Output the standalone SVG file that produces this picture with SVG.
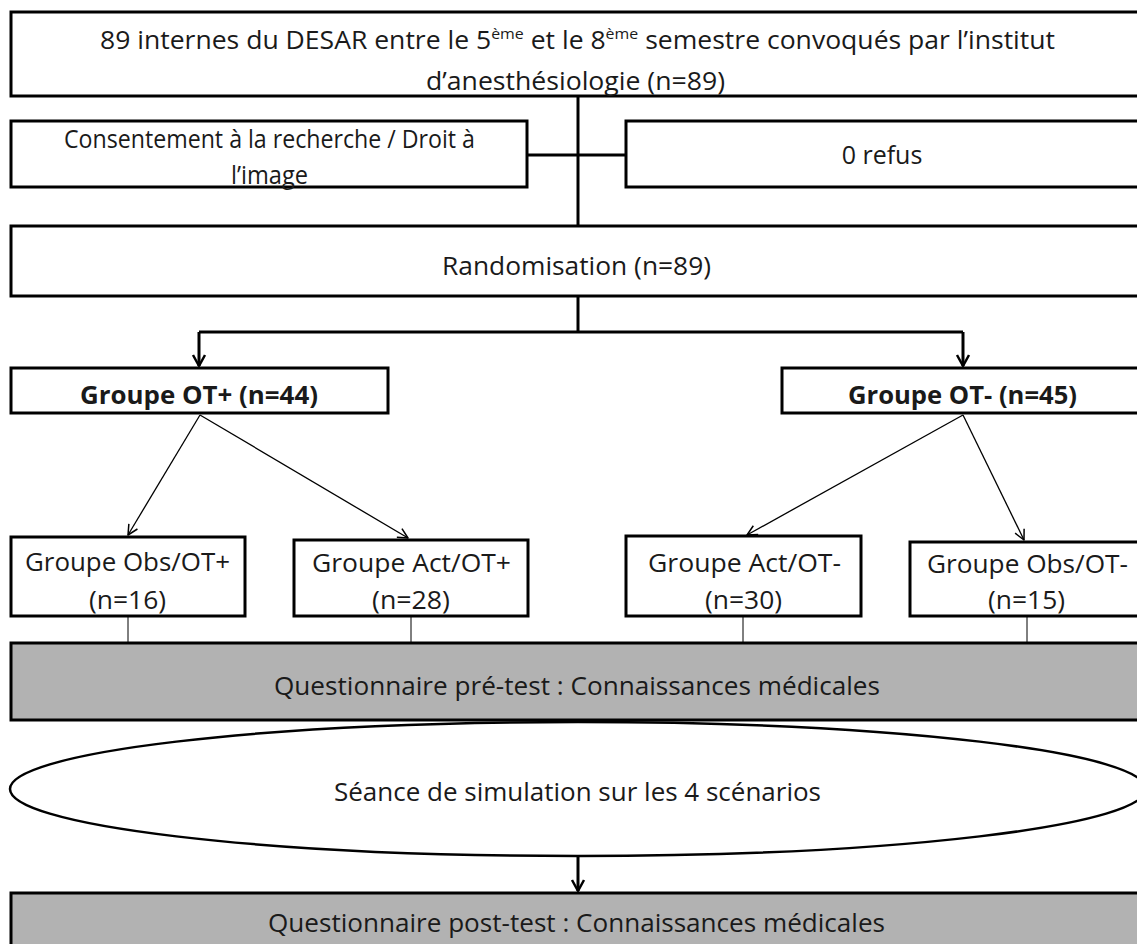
<svg xmlns="http://www.w3.org/2000/svg" width="1137" height="944" viewBox="0 0 1137 944">
<defs>
<style>
.box{fill:#fff;stroke:#000;stroke-width:3}
.gray{fill:#b2b2b2;stroke:#000;stroke-width:3}
.t{font-family:"Open Sans","Noto Sans","DejaVu Sans",sans-serif;font-size:25px;fill:#1a1a1a;text-anchor:middle}
.b{font-weight:bold}
.thick{fill:none;stroke:#000;stroke-width:3}
.thin{fill:none;stroke:#000;stroke-width:1.3}
.tick{fill:none;stroke:#000;stroke-width:1}
</style>
<marker id="ah" markerUnits="userSpaceOnUse" markerWidth="16" markerHeight="16" viewBox="-14 -8 16 16" refX="0" refY="0" orient="auto">
<path d="M-11,-6 L0,0 L-11,6" fill="none" stroke="#000" stroke-width="2.5" stroke-linejoin="round"/>
</marker>
<marker id="ahs" markerUnits="userSpaceOnUse" markerWidth="16" markerHeight="16" viewBox="-14 -8 16 16" refX="0" refY="0" orient="auto">
<path d="M-10,-5 L0,0 L-10,5" fill="none" stroke="#000" stroke-width="1.5" stroke-linejoin="round"/>
</marker>
</defs>

<g id="connectors">
<path class="thick" d="M578,96 V226"/>
<path class="thick" d="M527,155 H626"/>
<path class="thick" d="M578,296 V332"/>
<path class="thick" d="M199,332 H963"/>
<path class="thick" d="M199,332 V366" marker-end="url(#ah)"/>
<path class="thick" d="M963,332 V366" marker-end="url(#ah)"/>
<path class="thin" d="M200,415 L128,535" marker-end="url(#ahs)"/>
<path class="thin" d="M200,415 L408,538" marker-end="url(#ahs)"/>
<path class="thin" d="M963,415 L747,535" marker-end="url(#ahs)"/>
<path class="thin" d="M963,415 L1024,540" marker-end="url(#ahs)"/>
<path class="tick" d="M128,616 V643"/>
<path class="tick" d="M411,616 V643"/>
<path class="tick" d="M743,616 V643"/>
<path class="tick" d="M1027,616 V643"/>
<path class="thick" d="M578,856 V891" stroke-width="2" marker-end="url(#ah)"/>
</g>

<g id="n-internes">
<rect class="box" x="11" y="12" width="1150" height="84"/>
<text class="t" x="577.5" y="49" textLength="955" lengthAdjust="spacingAndGlyphs">89 internes du DESAR entre le 5<tspan font-size="15" dy="-10">ème</tspan><tspan dy="10"> et le 8</tspan><tspan font-size="15" dy="-10">ème</tspan><tspan dy="10"> semestre convoqués par l’institut</tspan></text>
<text class="t" x="575.5" y="90" textLength="299" lengthAdjust="spacingAndGlyphs">d’anesthésiologie (n=89)</text>
</g>

<g id="n-consent">
<rect class="box" x="11" y="121" width="516" height="66"/>
<text class="t" x="269.5" y="148" textLength="411" lengthAdjust="spacingAndGlyphs">Consentement à la recherche / Droit à</text>
<text class="t" x="269.5" y="184" textLength="77" lengthAdjust="spacingAndGlyphs">l’image</text>
</g>

<g id="n-refus">
<rect class="box" x="626" y="121" width="540" height="66"/>
<text class="t" x="882" y="164">0 refus</text>
</g>

<g id="n-random">
<rect class="box" x="11" y="226" width="1150" height="70"/>
<text class="t" x="576.5" y="275" textLength="269" lengthAdjust="spacingAndGlyphs">Randomisation (n=89)</text>
</g>

<g id="n-otplus">
<rect class="box" x="11" y="368" width="377" height="45"/>
<text class="t b" x="199" y="404" textLength="238" lengthAdjust="spacingAndGlyphs">Groupe OT+ (n=44)</text>
</g>

<g id="n-otminus">
<rect class="box" x="782" y="368" width="380" height="45"/>
<text class="t b" x="962.5" y="404" textLength="229" lengthAdjust="spacingAndGlyphs">Groupe OT- (n=45)</text>
</g>

<g id="n-obs-plus">
<rect class="box" x="11" y="537" width="234" height="79"/>
<text class="t" x="127.5" y="571" textLength="205" lengthAdjust="spacingAndGlyphs">Groupe Obs/OT+</text>
<text class="t" x="127.5" y="609" textLength="77" lengthAdjust="spacingAndGlyphs">(n=16)</text>
</g>

<g id="n-act-plus">
<rect class="box" x="294" y="540" width="234" height="76"/>
<text class="t" x="411.5" y="572" textLength="199" lengthAdjust="spacingAndGlyphs">Groupe Act/OT+</text>
<text class="t" x="411" y="609" textLength="78" lengthAdjust="spacingAndGlyphs">(n=28)</text>
</g>

<g id="n-act-minus">
<rect class="box" x="626" y="536" width="235" height="80"/>
<text class="t" x="744.5" y="572" textLength="193" lengthAdjust="spacingAndGlyphs">Groupe Act/OT-</text>
<text class="t" x="743.5" y="609" textLength="77" lengthAdjust="spacingAndGlyphs">(n=30)</text>
</g>

<g id="n-obs-minus">
<rect class="box" x="910" y="542" width="250" height="74"/>
<text class="t" x="1027.5" y="573" textLength="201" lengthAdjust="spacingAndGlyphs">Groupe Obs/OT-</text>
<text class="t" x="1026.5" y="609" textLength="77" lengthAdjust="spacingAndGlyphs">(n=15)</text>
</g>

<g id="n-pretest">
<rect class="gray" x="11" y="643" width="1150" height="77"/>
<text class="t" x="577" y="695" textLength="606" lengthAdjust="spacingAndGlyphs">Questionnaire pré-test : Connaissances médicales</text>
</g>

<g id="n-simulation">
<ellipse cx="578" cy="789" rx="568" ry="67" fill="#fff" stroke="#000" stroke-width="2.5"/>
<text class="t" x="577.5" y="801" textLength="487" lengthAdjust="spacingAndGlyphs">Séance de simulation sur les 4 scénarios</text>
</g>

<g id="n-posttest">
<rect class="gray" x="11" y="893" width="1150" height="70"/>
<text class="t" x="576.5" y="932" textLength="617" lengthAdjust="spacingAndGlyphs">Questionnaire post-test : Connaissances médicales</text>
</g>
</svg>
